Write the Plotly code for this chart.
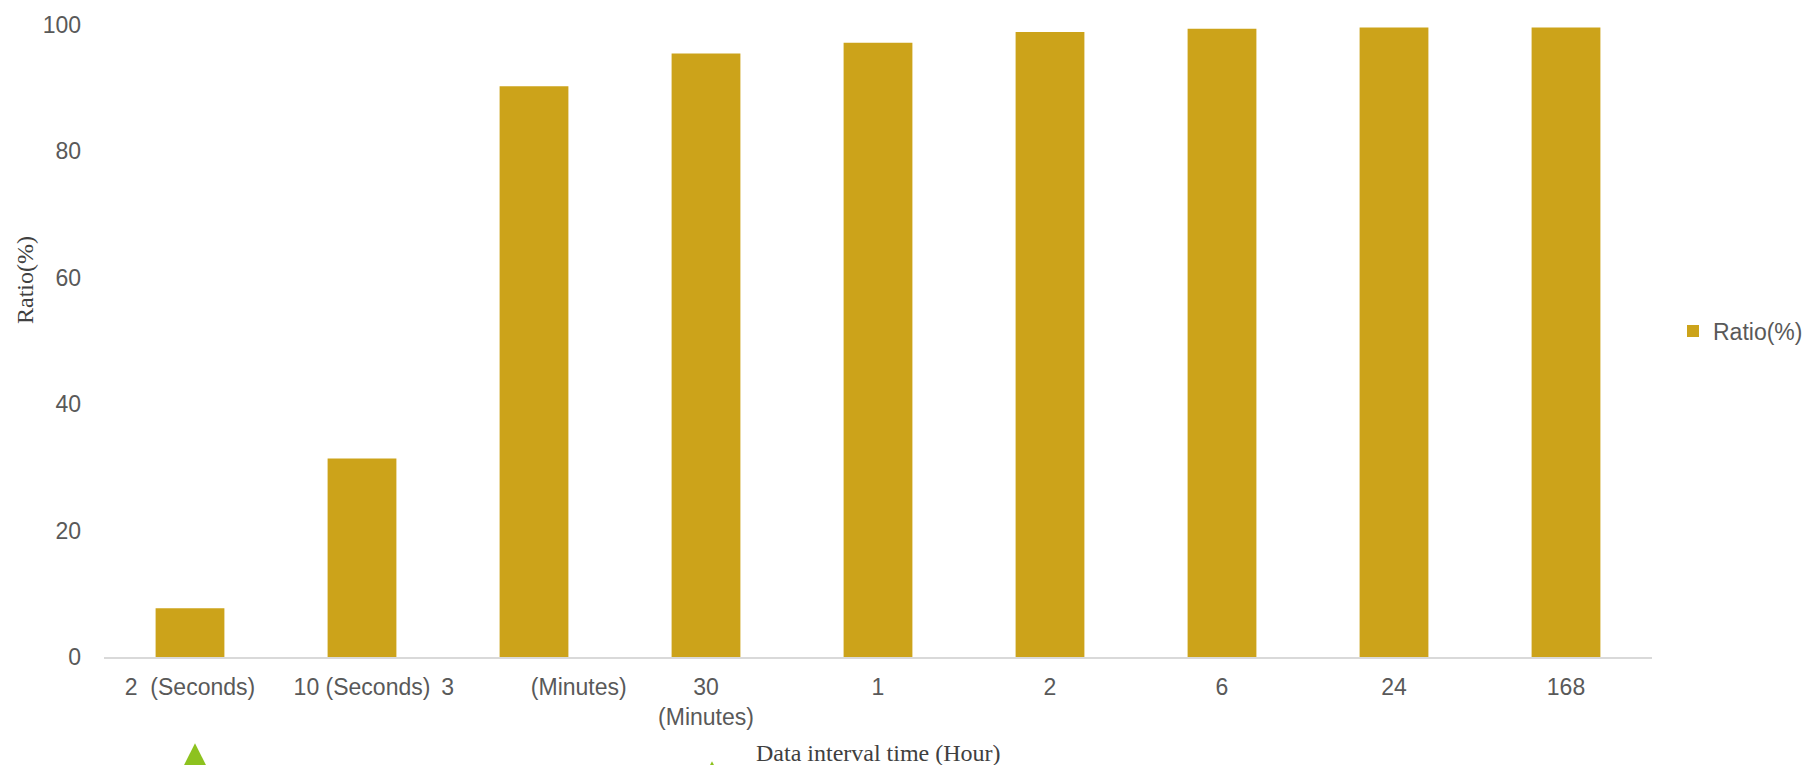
import plotly.graph_objects as go

# Category labels along the x axis (data interval)
categories = [
    "2\u00a0\u00a0(Seconds)",
    "10\u00a0(Seconds)",
    "3" + "\u00a0" * 12 + "(Minutes)",
    "30<br>(Minutes)",
    "1",
    "2\u200b",
    "6",
    "24",
    "168",
]
# Share of records (%) for each interval
ratio = [7.7, 31.4, 90.3, 95.5, 97.2, 98.9, 99.4, 99.6, 99.6]

y_ticks = [0, 20, 40, 60, 80, 100]

W, H = 1804, 765
ML, MR, MT, MB = 104, 152, 20, 108
PW, PH = W - ML - MR, H - MT - MB

BAR = "#CCA31A"
TICK = "#595959"
TITLE = "#404040"
GREEN = "#8DC21F"


def px(x, y):
    """Pixel position -> paper coordinates."""
    return (x - ML) / PW, (H - MB - y) / PH


def tri(apex_x, apex_y, depth):
    ax, ay = px(apex_x, apex_y)
    lx, ly = px(apex_x - depth * 0.5, apex_y + depth)
    rx, ry = px(apex_x + depth * 0.5, apex_y + depth)
    return dict(
        type="path", xref="paper", yref="paper",
        path=f"M {ax} {ay} L {lx} {ly} L {rx} {ry} Z",
        fillcolor=GREEN, line=dict(width=0), layer="above",
    )


fig = go.Figure(
    go.Bar(
        x=categories,
        y=ratio,
        name="Ratio(%)",
        marker=dict(color=BAR, line=dict(width=0)),
        showlegend=True,
    )
)

fig.update_layout(
    width=W,
    height=H,
    margin=dict(l=ML, r=MR, t=MT, b=MB),
    paper_bgcolor="white",
    plot_bgcolor="white",
    bargap=0.6,
    font=dict(family="Liberation Sans, Arial, sans-serif", size=23, color=TICK),
    xaxis=dict(
        type="category",
        showgrid=False,
        showline=True,
        linecolor="#D9D9D9",
        linewidth=2,
        ticks="",
        ticklabelstandoff=8,
        tickfont=dict(size=23, color=TICK),
    ),
    yaxis=dict(
        range=[0, 100],
        tickvals=y_ticks,
        showgrid=False,
        zeroline=False,
        showline=False,
        ticks="",
        ticklabelstandoff=22,
        tickfont=dict(size=23, color=TICK),
    ),
    legend=dict(
        xref="container",
        yref="container",
        x=1673 / W,
        y=1 - 331 / H,
        xanchor="left",
        yanchor="middle",
        font=dict(size=23, color=TICK),
        bgcolor="rgba(0,0,0,0)",
        itemwidth=30,
    ),
    shapes=[tri(195, 744, 60), tri(712, 762, 30)],
    annotations=[
        dict(
            text="Data interval time (Hour)",
            xref="paper", yref="paper",
            x=0.5, y=px(0, 754)[1],
            xanchor="center", yanchor="middle",
            showarrow=False,
            font=dict(family="Liberation Serif, Times New Roman, serif", size=24, color=TITLE),
        ),
        dict(
            text="Ratio(%)",
            xref="paper", yref="paper",
            x=px(25, 0)[0], y=px(0, 277)[1],
            xanchor="center", yanchor="middle",
            textangle=-90,
            showarrow=False,
            font=dict(family="Liberation Serif, Times New Roman, serif", size=24, color=TITLE),
        ),
    ],
)

fig.write_html("out.html")
